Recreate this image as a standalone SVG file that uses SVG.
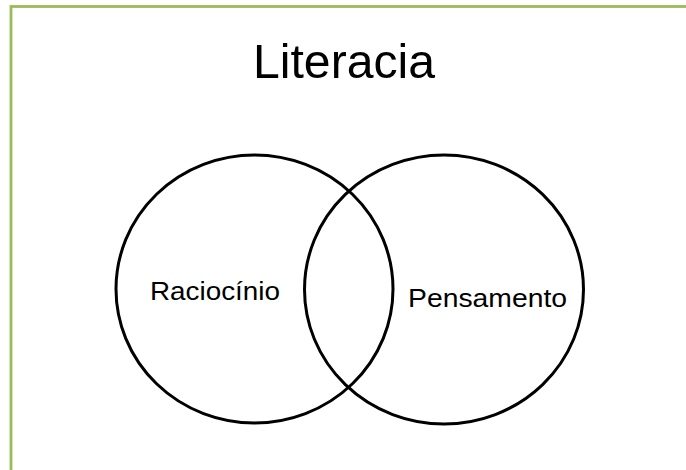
<svg xmlns="http://www.w3.org/2000/svg" width="686" height="470" viewBox="0 0 686 470">
<style>
.frame{fill:none;stroke:#9BBB59;stroke-width:2.8}
.set{fill:none;stroke:#000;stroke-width:3}
.t{font-family:"Liberation Sans",Arial,sans-serif;fill:#000}
</style>
<rect width="686" height="470" fill="#fff"/>
<rect class="frame" x="11" y="6.5" width="700" height="500"/>
<g id="title"><text class="t" x="253" y="78" font-size="48" textLength="182" lengthAdjust="spacingAndGlyphs">Literacia</text></g>
<g id="raciocinio">
<ellipse class="set" cx="254.5" cy="289" rx="138.5" ry="134"/>
<text class="t" x="150" y="300" font-size="26" textLength="130" lengthAdjust="spacingAndGlyphs">Raciocínio</text>
</g>
<g id="pensamento">
<ellipse class="set" cx="444" cy="289.5" rx="139.5" ry="134.5"/>
<text class="t" x="408" y="306.5" font-size="26" textLength="159" lengthAdjust="spacingAndGlyphs">Pensamento</text>
</g>
<g id="connectors"/>
</svg>
